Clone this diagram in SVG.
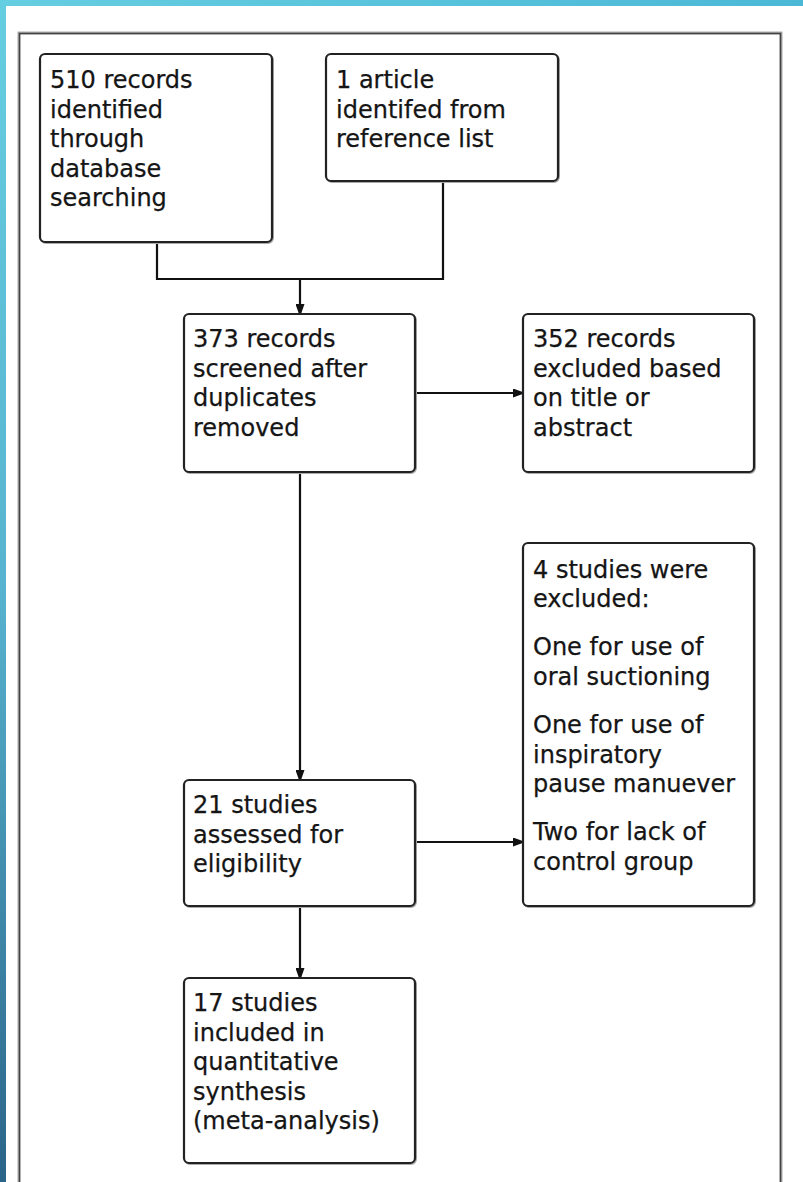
<svg xmlns="http://www.w3.org/2000/svg" width="803" height="1182" viewBox="0 0 803 1182">
<defs>
<linearGradient id="gTop" x1="0" y1="0" x2="1" y2="0">
<stop offset="0" stop-color="#66CEE1"/>
<stop offset="1" stop-color="#4BB8D6"/>
</linearGradient>
<linearGradient id="gLeft" x1="0" y1="0" x2="0" y2="1">
<stop offset="0" stop-color="#66CEE1"/>
<stop offset="0.5" stop-color="#57B3CF"/>
<stop offset="1" stop-color="#2B6489"/>
</linearGradient>
<marker id="arr" viewBox="0 0 10 10" refX="10" refY="5" markerWidth="11" markerHeight="9" markerUnits="userSpaceOnUse" orient="auto">
<path d="M0,0 L10,3.5 L10,6.5 L0,10 Z" fill="#111"/>
</marker>
</defs>
<style>
.box{fill:#fff;stroke:#222;stroke-width:2.2}
.shadow{fill:none;stroke:#aaa;stroke-width:2}
.t{font-family:"DejaVu Sans","Liberation Sans",sans-serif;font-size:24px;fill:#151515;stroke:#151515;stroke-width:0.25}
.c{fill:none;stroke:#111;stroke-width:2.2}
</style>
<rect x="0" y="0" width="803" height="1182" fill="#fff"/>
<rect x="0" y="0" width="803" height="6" fill="url(#gTop)"/>
<rect x="0" y="0" width="6" height="1182" fill="url(#gLeft)"/>
<path d="M19,1182 V33 H781 V1182" fill="none" stroke="#aaa" stroke-width="3"/>
<path d="M19.5,1182 V33.5 H780.5 V1182" fill="none" stroke="#444" stroke-width="1.5"/>

<g id="connectors">
<path class="c" d="M157,242 V279 H443 V181"/>
<path class="c" d="M300,279 V313" marker-end="url(#arr)"/>
<path class="c" d="M415,393 H522" marker-end="url(#arr)"/>
<path class="c" d="M300,472 V779" marker-end="url(#arr)"/>
<path class="c" d="M415,842 H522" marker-end="url(#arr)"/>
<path class="c" d="M300,906 V977" marker-end="url(#arr)"/>
</g>

<g id="n1">
<rect class="shadow" x="41" y="55" width="232" height="188" rx="5"/>
<rect class="box" x="40" y="54" width="232" height="188" rx="5"/>
<text class="t"><tspan x="50" y="88">510 records</tspan><tspan x="50" y="117.5">identified</tspan><tspan x="50" y="147">through</tspan><tspan x="50" y="176.5">database</tspan><tspan x="50" y="206">searching</tspan></text>
</g>
<g id="n2">
<rect class="shadow" x="327" y="55" width="232" height="127" rx="5"/>
<rect class="box" x="326" y="54" width="232" height="127" rx="5"/>
<text class="t"><tspan x="336" y="88">1 article</tspan><tspan x="336" y="117.5">identifed from</tspan><tspan x="336" y="147">reference list</tspan></text>
</g>
<g id="n3">
<rect class="shadow" x="185" y="315" width="231" height="158" rx="5"/>
<rect class="box" x="184" y="314" width="231" height="158" rx="5"/>
<text class="t"><tspan x="193" y="347">373 records</tspan><tspan x="193" y="376.5">screened after</tspan><tspan x="193" y="406">duplicates</tspan><tspan x="193" y="435.5">removed</tspan></text>
</g>
<g id="n4">
<rect class="shadow" x="524" y="315" width="231" height="158" rx="5"/>
<rect class="box" x="523" y="314" width="231" height="158" rx="5"/>
<text class="t"><tspan x="533" y="347">352 records</tspan><tspan x="533" y="376.5">excluded based</tspan><tspan x="533" y="406">on title or</tspan><tspan x="533" y="435.5">abstract</tspan></text>
</g>
<g id="n5">
<rect class="shadow" x="524" y="544" width="231" height="363" rx="5"/>
<rect class="box" x="523" y="543" width="231" height="363" rx="5"/>
<text class="t"><tspan x="533" y="578">4 studies were</tspan><tspan x="533" y="607">excluded:</tspan><tspan x="533" y="655">One for use of</tspan><tspan x="533" y="685">oral suctioning</tspan><tspan x="533" y="733">One for use of</tspan><tspan x="533" y="763">inspiratory</tspan><tspan x="533" y="792">pause manuever</tspan><tspan x="533" y="840">Two for lack of</tspan><tspan x="533" y="870">control group</tspan></text>
</g>
<g id="n6">
<rect class="shadow" x="185" y="781" width="231" height="126" rx="5"/>
<rect class="box" x="184" y="780" width="231" height="126" rx="5"/>
<text class="t"><tspan x="193" y="813">21 studies</tspan><tspan x="193" y="842.5">assessed for</tspan><tspan x="193" y="872">eligibility</tspan></text>
</g>
<g id="n7">
<rect class="shadow" x="185" y="979" width="231" height="185" rx="5"/>
<rect class="box" x="184" y="978" width="231" height="185" rx="5"/>
<text class="t"><tspan x="193" y="1011">17 studies</tspan><tspan x="193" y="1040.5">included in</tspan><tspan x="193" y="1070">quantitative</tspan><tspan x="193" y="1099.5">synthesis</tspan><tspan x="193" y="1129">(meta-analysis)</tspan></text>
</g>
</svg>
